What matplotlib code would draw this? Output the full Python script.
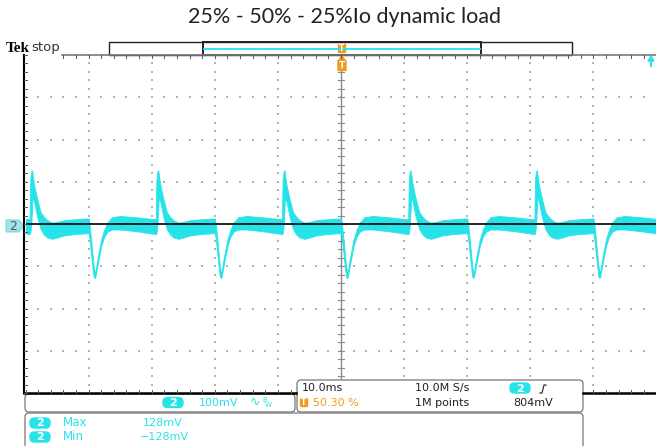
import matplotlib
matplotlib.use("Agg")
import matplotlib.pyplot as plt
import numpy as np
from matplotlib.patches import FancyBboxPatch, Rectangle, Polygon

# screen: 10 ms/div, 100 mV/div, trigger at t = 0
title = "25% - 50% - 25%Io dynamic load"
time_range_ms = (-50, 50)
volt_range_mv = (-400, 400)

# one 20 ms load cycle, starting at the load step-up
# (ms after the step, upper / lower edge of the noisy trace band in mV)
cycle_offset_ms = [0.0, 0.16, 0.48, 0.79, 0.95, 1.06, 1.32, 1.64, 2.0, 2.48,
                   3.0, 3.7, 5.0, 7.5, 10.65, 10.75, 10.9, 11.05, 11.12, 11.33,
                   11.86, 12.39, 12.92, 13.45, 14.24, 15.03, 16.1, 17.67, 19.5, 20.0]
cycle_upper_mv = [13, 0, -50, -98, -112, -116, -90, -63, -36, -13,
                  4, 16, 19, 16, 11, 105, 124, 127, 118, 95,
                  59, 28, 17, 9, 3, 5, 9, 11, 13, 13]
cycle_lower_mv = [-22, -36, -83, -124, -128, -126, -105, -80, -52, -30,
                  -18, -13, -13, -17, -24, -22, -5, 40, 62, 55,
                  16, -12, -25, -32, -35, -32, -27, -24, -22, -22]
# load step-up instants seen on screen (ms)
cycle_start_ms = [-60, -40, -20, 0, 20, 40]

meas_labels = ["Max", "Min"]
meas_values = ["128mV", "\u2212128mV"]

trace_color = "#26e3ea"
dot_color = "#b4b4b4"
orange = "#f39a1c"

fig = plt.figure(figsize=(6.56, 4.46), dpi=100)
ax = fig.add_axes([25.5 / 656, 1 - 393 / 446, 631 / 656, 338 / 446])
ax.set_xlim(*time_range_ms)
ax.set_ylim(*volt_range_mv)
ax.set_xticks([])
ax.set_yticks([])
for s in ax.spines.values():
    s.set_visible(False)

# dotted graticule
xs_fine = np.arange(-50, 50.01, 2)
ys_fine = np.arange(-400, 400.01, 20)
for gy in [-300, -200, -100, 100, 200, 300]:
    ax.scatter(xs_fine, np.full_like(xs_fine, gy), s=1.0, marker="s",
               color=dot_color, linewidths=0, zorder=1)
for gx in [-40, -30, -20, -10, 10, 20, 30, 40]:
    ax.scatter(np.full_like(ys_fine, gx), ys_fine, s=1.0, marker="s",
               color=dot_color, linewidths=0, zorder=1)

# centre lines
ax.axvline(0, color="#8a8a8a", lw=1.0, zorder=1)
ax.axhline(0, color="black", lw=1.2, zorder=4)
for yy in ys_fine:
    ax.plot([-0.4, 0.4], [yy, yy], color="#8a8a8a", lw=0.8, zorder=1)

# trace
off = np.array(cycle_offset_ms)
up = np.array(cycle_upper_mv)
lo = np.array(cycle_lower_mv)
for t0 in cycle_start_ms:
    ax.fill_between(t0 + off, lo, up, color=trace_color, lw=0.6,
                    edgecolor=trace_color, zorder=3)

# overlay in pixel coordinates for the scope chrome
ov = fig.add_axes([0, 0, 1, 1], facecolor="none")
ov.set_xlim(0, 656)
ov.set_ylim(446, 0)
ov.axis("off")

# frame lines and ticks
ov.plot([24, 24], [55, 393], color="black", lw=1.5)
ov.plot([62, 656], [55, 55], color="#7a7a7a", lw=1.2)
ov.plot([24, 296], [393, 393], color="black", lw=1.8)
ov.plot([583, 656], [393, 393], color="black", lw=1.8)
for i in range(41):
    yy = 55 + i * 338 / 40
    ov.plot([24, 27], [yy, yy], color="#555555", lw=0.7)
for i in range(51):
    xx = 25.5 + i * 631 / 50
    if xx > 62:
        ov.plot([xx, xx], [55, 58], color="#555555", lw=0.7)
    if xx < 296 or xx > 583:
        ov.plot([xx, xx], [393, 390], color="#555555", lw=0.7)

# title and status
ov.text(344, 17, title, ha="center", va="center", fontsize=15.5,
        family="Lato", color="#222222")
ov.text(6, 48, "Tek", ha="left", va="center", fontsize=11,
        family="Liberation Serif", weight="bold")
ov.text(31, 48, "stop", ha="left", va="center", fontsize=9.5,
        family="DejaVu Sans", color="#333333")

# record view bar
ov.add_patch(Rectangle((109, 42), 463, 13, fill=False, ec="#222222", lw=1.0))
ov.add_patch(Rectangle((203, 42), 278, 13, fill=False, ec="#222222", lw=1.4))
ov.plot([204, 480], [48.5, 48.5], color=trace_color, lw=1.3)

# trigger markers
ov.add_patch(FancyBboxPatch((339, 45), 6, 7, boxstyle="round,pad=0.5",
                            fc=orange, ec=orange))
ov.text(342, 48.5, "T", ha="center", va="center", fontsize=5.5, color="white",
        weight="bold")
ov.add_patch(Polygon([[339, 60], [345, 60], [342, 56]], closed=True,
                     fc=orange, ec=orange))
ov.add_patch(FancyBboxPatch((338.5, 61), 7, 9, boxstyle="round,pad=0.5",
                            fc=orange, ec=orange))
ov.text(342, 66, "T", ha="center", va="center", fontsize=6.5, color="white",
        weight="bold")
ov.add_patch(Polygon([[648, 61], [654, 61], [651, 56]], closed=True,
                     fc=trace_color, ec=trace_color))
ov.plot([651, 651], [60, 66], color=trace_color, lw=1.5)

# channel 2 ground marker
ov.add_patch(Polygon([[6, 220], [19, 220], [24, 226], [19, 232], [6, 232]],
                     closed=True, fc="#9ee6ea", ec="#6fcfd4", lw=0.6))
ov.text(13, 226.5, "2", ha="center", va="center", fontsize=9, color="#555555")


def badge(x, y, w, h, label, fs=8):
    ov.add_patch(FancyBboxPatch((x, y), w, h, boxstyle="round,pad=0,rounding_size=4.5",
                                fc=trace_color, ec=trace_color))
    ov.text(x + w / 2, y + h / 2 + 0.5, label, ha="center", va="center",
            fontsize=fs, color="white", weight="bold")


# vertical scale box
ov.add_patch(FancyBboxPatch((25, 394), 270, 18, boxstyle="round,pad=0,rounding_size=4",
                            fc="white", ec="#777777", lw=0.9))
badge(163, 397.5, 20, 10, "2")
ov.text(199, 402.5, "100mV", ha="left", va="center", fontsize=8,
        family="DejaVu Sans", color=trace_color)
ov.text(250, 402.5, "\u223f", ha="left", va="center", fontsize=9,
        family="DejaVu Sans", color=trace_color)
ov.text(262, 400.5, "B", ha="left", va="center", fontsize=5,
        family="DejaVu Sans", color=trace_color)
ov.text(265, 405, "W", ha="left", va="center", fontsize=5,
        family="DejaVu Sans", color=trace_color)

# measurement box
ov.add_patch(FancyBboxPatch((25, 413), 558, 40, boxstyle="round,pad=0,rounding_size=4",
                            fc="white", ec="#777777", lw=0.9))
for i, (lab, val) in enumerate(zip(meas_labels, meas_values)):
    yy = 423 + i * 14
    badge(30, yy - 5, 20, 10, "2")
    ov.text(63, yy, lab, ha="left", va="center", fontsize=8.5,
            family="DejaVu Sans", color=trace_color)
    ov.text(143 if i == 0 else 140, yy, val, ha="left", va="center", fontsize=8,
            family="DejaVu Sans", color=trace_color)

# horizontal / trigger box
ov.add_patch(FancyBboxPatch((297, 380), 286, 32, boxstyle="round,pad=0,rounding_size=4",
                            fc="white", ec="#777777", lw=0.9))
ov.text(302, 388, "10.0ms", ha="left", va="center", fontsize=8,
        family="DejaVu Sans", color="#222222")
ov.add_patch(FancyBboxPatch((300.5, 398.5), 7, 8, boxstyle="round,pad=0,rounding_size=1",
                            fc=orange, ec=orange))
ov.text(304, 402.8, "T", ha="center", va="center", fontsize=5.5, color="white",
        weight="bold")
ov.text(313, 403, "50.30 %", ha="left", va="center", fontsize=8,
        family="DejaVu Sans", color=orange)
ov.text(415, 388, "10.0M S/s", ha="left", va="center", fontsize=8,
        family="DejaVu Sans", color="#222222")
ov.text(415, 403, "1M points", ha="left", va="center", fontsize=8,
        family="DejaVu Sans", color="#222222")
badge(510, 383, 20, 10, "2")
ov.plot([540, 542, 544, 546], [393, 393, 385, 385], color="#333333", lw=0.9)
ov.text(513, 403, "804mV", ha="left", va="center", fontsize=8,
        family="DejaVu Sans", color="#222222")

fig.savefig("out.png", dpi=100)
